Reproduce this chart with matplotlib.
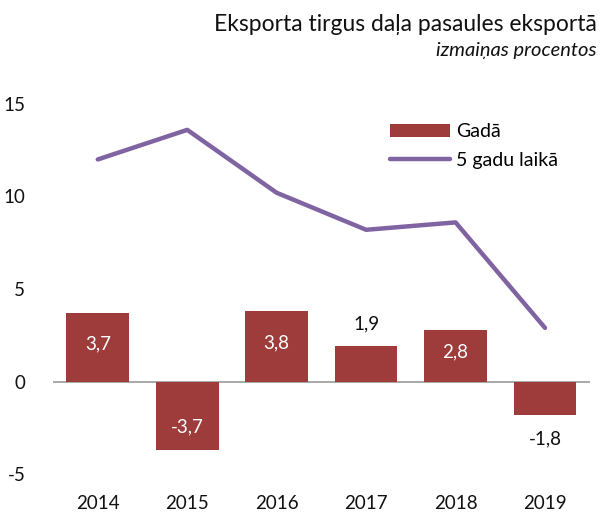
import matplotlib.pyplot as plt
import numpy as np

plt.rcParams['font.family'] = ['Lato', 'DejaVu Sans']
plt.rcParams['axes.unicode_minus'] = False

# data
years = ["2014", "2015", "2016", "2017", "2018", "2019"]
annual = [3.7, -3.7, 3.8, 1.9, 2.8, -1.8]
five_year = [12.0, 13.6, 10.2, 8.2, 8.6, 2.9]

bar_color = "#9E3B3B"
line_color = "#8064A2"

fig = plt.figure(figsize=(6.03, 5.12), dpi=100)
ax = fig.add_axes([0.088, 0.074, 0.890, 0.723])

x = np.arange(len(years))
bars = ax.bar(x, annual, width=0.70, color=bar_color, zorder=2)
line, = ax.plot(x, five_year, color=line_color, lw=3.2, solid_capstyle="round",
                zorder=3)

# value labels
for xi, v in zip(x, annual):
    txt = f"{v:.1f}".replace(".", ",")
    if abs(v) >= 2.5:
        ax.text(xi, v / 2 + (0.2 if v > 0 else -0.6), txt, ha="center", va="center",
                color="white", fontsize=13.5)
    else:
        off = 1.2 if v > 0 else -1.3
        ax.text(xi, v + off, txt, ha="center", va="center",
                color="#111111", fontsize=13.5)

ax.axhline(0, color="#999999", lw=1.2, zorder=1)

ax.set_xlim(-0.5, 5.5)
ax.set_ylim(-5, 15)
ax.set_yticks([-5, 0, 5, 10, 15])
ax.set_xticks(x)
ax.set_xticklabels(years)
ax.tick_params(axis="both", length=0, labelsize=13.5, colors="#111111")
ax.tick_params(axis="y", pad=20)
ax.tick_params(axis="x", pad=15)
for s in ax.spines.values():
    s.set_visible(False)

ax.legend([bars, line], ["Gadā", "5 gadu laikā"], loc="upper left",
          bbox_to_anchor=(0.595, 0.995), frameon=False,
          fontsize=14, handlelength=3.1, handletextpad=0.3, labelspacing=0.6)

fig.text(0.99, 0.94, "Eksporta tirgus daļa pasaules eksportā", ha="right",
         va="baseline", fontsize=16.5, color="#111111")
fig.text(0.99, 0.891, "izmaiņas procentos", ha="right", va="baseline",
         fontsize=14.5, style="italic", color="#111111")

fig.savefig("out.png", dpi=100)
